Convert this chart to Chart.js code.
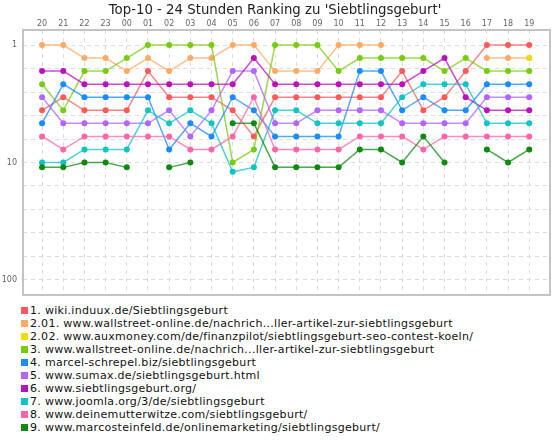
<!DOCTYPE html>
<html lang="de">
<head>
<meta charset="UTF-8">
<title>Top-10 Ranking</title>
<script src="https://cdn.jsdelivr.net/npm/chart.js"></script>
<style>
    body {
        margin: 0;
        background: #fff;
        font-family: "DejaVu Sans", sans-serif;
    }
    #wrap {
        position: relative;
        width: 560px;
        height: 300px;
    }
    #legend {
        position: absolute;
        top: 304px;
        left: 21px;
        font-size: 11px;
        letter-spacing: 0.3px;
        line-height: 13px;
        color: #111;
        white-space: nowrap;
    }
    #legend .box {
        display: inline-block;
        width: 7px;
        height: 7px;
        margin-right: 2px;
        vertical-align: 0;
    }
</style>
</head>
<body>
<div id="wrap"><canvas id="chart" width="560" height="300"></canvas></div>
<div id="legend"></div>

<script>
    // hours on the top axis
    const hours = ['20', '21', '22', '23', '00', '01', '02', '03', '04', '05', '06', '07',
                   '08', '09', '10', '11', '12', '13', '14', '15', '16', '17', '18', '19'];

    // rank per hour, null = not in the list
    const wikiInduux   = [6, 5, 6, 6, 6, 3, 5, 5, 5, 6, 8, 5, 5, 5, 5, 5, 5, 3, 6, 5, 3, 1, 1, 1];
    const wallstreet1  = [1, 1, 2, 2, 3, 2, 3, 2, 2, 1, 1, 3, 3, 3, 1, 1, 1, null, null, null, null, 2, 2, 2];
    const auxmoney     = [null, null, null, null, null, null, null, null, null, null, null, null,
                          null, null, null, null, null, null, null, null, null, null, null, 2];
    const wallstreet3  = [4, 6, 3, 3, 2, 1, 1, 1, 1, 10, 9, 1, 1, 1, 3, 2, 2, 2, 2, 3, 2, 3, 3, 3];
    const schrepel     = [7, 4, 5, 5, 5, 5, 9, 7, 8, 5, 6, 8, 8, 8, 8, 3, 3, 6, 5, 6, 6, 4, 4, 4];
    const sumax        = [5, 7, 7, 7, 7, 7, 6, 8, 6, 3, 3, 7, 7, 6, 6, 6, 6, 7, 7, 7, 7, 5, 5, 5];
    const siebtOrg     = [3, 3, 4, 4, 4, 4, 4, 4, 4, 4, 2, 4, 4, 4, 4, 4, 4, 4, 3, 2, 5, 6, 6, 6];
    const joomla       = [10, 10, 9, 9, 9, 6, 7, 6, 7, 12, 11, 6, 6, 7, 7, 7, 7, 5, 4, 4, 4, 7, 7, 7];
    const mutterwitze  = [8, 9, 8, 8, 8, 8, 8, 9, 9, 8, 5, 9, 9, 9, 9, 8, 8, 8, 9, 8, 8, 8, 8, 8];
    const steinfeld    = [11, 11, 10, 10, 11, null, 11, 10, null, 7, 7, 11, 11, 11, 11, 9, 9, 10, 8, 10, null, 9, 10, 9];

    const seriesNames = [
        '1. wiki.induux.de/Siebtlingsgeburt',
        '2.01. www.wallstreet-online.de/nachrich...ller-artikel-zur-siebtlingsgeburt',
        '2.02. www.auxmoney.com/de/finanzpilot/siebtlingsgeburt-seo-contest-koeln/',
        '3. www.wallstreet-online.de/nachrich...ller-artikel-zur-siebtlingsgeburt',
        '4. marcel-schrepel.biz/siebtlingsgeburt',
        '5. www.sumax.de/siebtlingsgeburt.html',
        '6. www.siebtlingsgeburt.org/',
        '7. www.joomla.org/3/de/siebtlingsgeburt',
        '8. www.deinemutterwitze.com/siebtlingsgeburt/',
        '9. www.marcosteinfeld.de/onlinemarketing/siebtlingsgeburt/'
    ];
    const seriesData = [wikiInduux, wallstreet1, auxmoney, wallstreet3, schrepel,
                        sumax, siebtOrg, joomla, mutterwitze, steinfeld];
    const seriesColors = ['#ff5a5a', '#ffaa66', '#eedd00', '#77cc11', '#1a8cff',
                          '#b266ff', '#bb11bb', '#11c4c4', '#ff66aa', '#118811'];

    const yTickLabels = [1, 10, 100];

    // rank axis: linear from 1 to 10, logarithmic from 10 to 100
    const F0 = -0.1277, F1 = 2.1277;
    function rankPos(v) { return v <= 10 ? (v - 1) / 9 : 1 + Math.log10(v / 10); }
    function posRank(f) { return f <= 1 ? 1 + 9 * f : 10 * Math.pow(10, f - 1); }

    class RankScale extends Chart.LinearScale {
        getPixelForValue(value) {
            return this.getPixelForDecimal((rankPos(value) - F0) / (F1 - F0));
        }
        getValueForPixel(pixel) {
            return posRank(F0 + this.getDecimalForPixel(pixel) * (F1 - F0));
        }
    }
    RankScale.id = 'rank';
    RankScale.defaults = Chart.LinearScale.defaults;
    Chart.register(RankScale);

    const frame = {
        id: 'frame',
        beforeDatasetsDraw(chart) {
            const a = chart.chartArea, ctx = chart.ctx;
            ctx.save();
            ctx.strokeStyle = '#c4c4c4';
            ctx.lineWidth = 2;
            ctx.strokeRect(a.left, a.top, a.right - a.left, a.bottom - a.top);
            ctx.restore();
        }
    };

    function hexA(hex, a) {
        const n = parseInt(hex.slice(1), 16);
        return `rgba(${n >> 16},${(n >> 8) & 255},${n & 255},${a})`;
    }

    const datasets = seriesData.map((d, i) => ({
        label: seriesNames[i],
        data: d.map((v, j) => ({ x: j, y: v })),
        borderColor: hexA(seriesColors[i], 0.75),
        backgroundColor: seriesColors[i],
        borderWidth: 1.5,
        pointRadius: 3,
        pointHoverRadius: 3,
        pointBorderWidth: 0,
        spanGaps: false,
        order: -i
    }));

    const gridStyle = {
        color: '#dcdcdc',
        lineWidth: 1,
        drawTicks: false,
        borderDash: [4, 4]
    };

    new Chart(document.getElementById('chart'), {
        type: 'line',
        data: { datasets: datasets },
        options: {
            responsive: false,
            animation: false,
            layout: { padding: { left: 0, right: 10, top: 0, bottom: 5 } },
            plugins: {
                legend: { display: false },
                tooltip: { enabled: false },
                title: {
                    display: true,
                    text: "Top-10 - 24 Stunden Ranking zu 'Siebtlingsgeburt'",
                    color: '#222',
                    font: { family: 'DejaVu Sans', size: 13.3, weight: 'normal' },
                    padding: { top: 3, bottom: 0 }
                }
            },
            scales: {
                x: {
                    type: 'linear',
                    position: 'top',
                    min: -0.9,
                    max: 23.98,
                    afterBuildTicks: s => { s.ticks = hours.map((h, i) => ({ value: i })); },
                    afterFit: s => {
                        s.height = 30 - 3 - 13.3 * 1.2;
                        s.paddingLeft = 0;
                        s.paddingRight = 0;
                    },
                    border: { display: false, dash: [4, 4] },
                    grid: gridStyle,
                    ticks: {
                        autoSkip: false,
                        maxRotation: 0,
                        padding: 1,
                        color: '#666',
                        font: { family: 'DejaVu Sans', size: 8 },
                        callback: v => hours[v]
                    }
                },
                y: {
                    type: 'rank',
                    reverse: true,
                    min: 1,
                    max: 100,
                    afterBuildTicks: s => {
                        const t = [];
                        for (let i = 0; i <= 10; i++) t.push({ value: posRank(i / 5) });
                        s.ticks = t;
                    },
                    afterFit: s => {
                        s.width = 23;
                        s.paddingTop = 0;
                        s.paddingBottom = 0;
                    },
                    border: { display: false, dash: [4, 4] },
                    grid: gridStyle,
                    ticks: {
                        autoSkip: false,
                        padding: 6,
                        color: '#666',
                        font: { family: 'DejaVu Sans', size: 8 },
                        callback: v => yTickLabels.includes(v) ? String(v) : ''
                    }
                }
            }
        },
        plugins: [frame]
    });

    // legend, one entry per line
    const legend = document.getElementById('legend');
    seriesNames.forEach((name, i) => {
        const row = document.createElement('div');
        const box = document.createElement('span');
        box.className = 'box';
        box.style.background = seriesColors[i];
        row.appendChild(box);
        row.appendChild(document.createTextNode(name));
        legend.appendChild(row);
    });
</script>
</body>
</html>
